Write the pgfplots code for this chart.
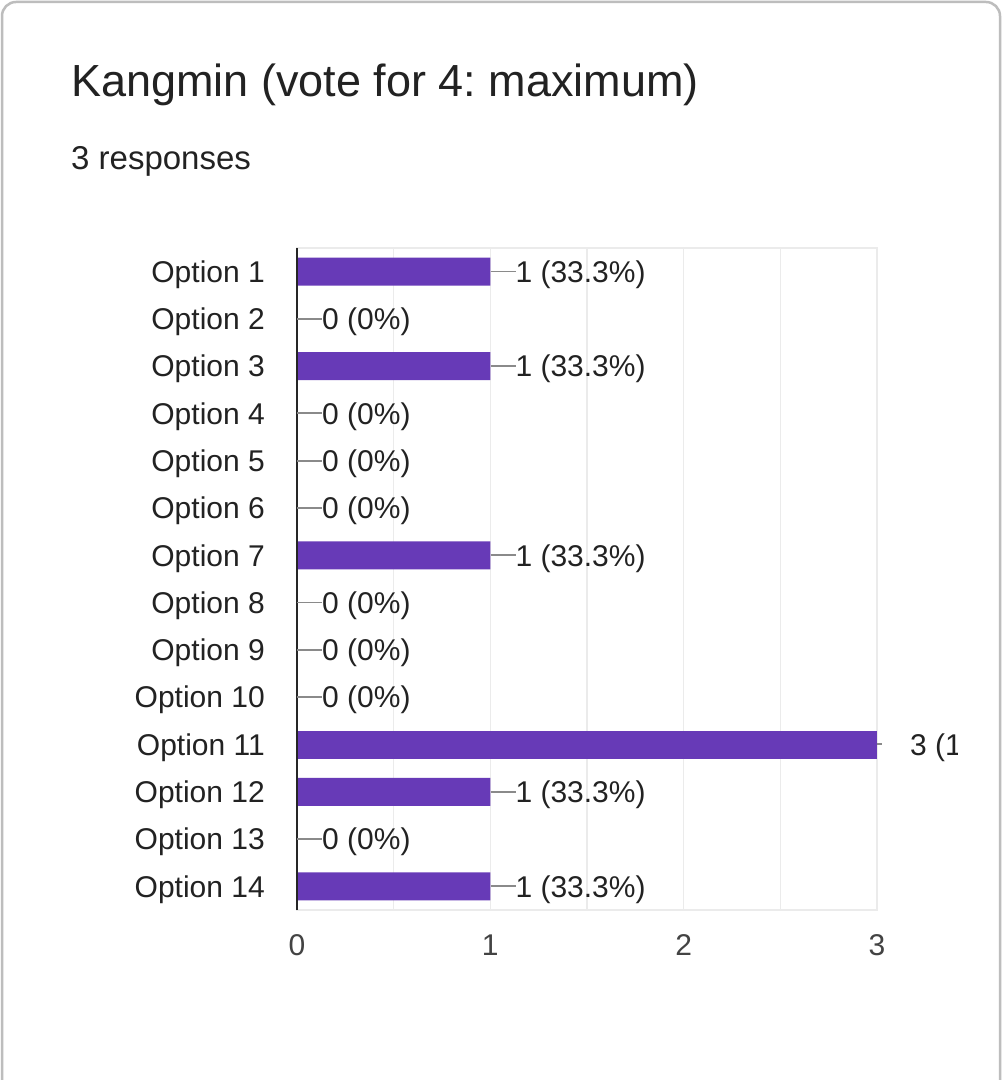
\documentclass[border=0pt]{standalone}
\usepackage{pgfplots}
\pgfplotsset{compat=1.18}
\usepackage{pgfplotstable}
\usepackage{fontspec}
\setmainfont{Liberation Sans}
\frenchspacing
\definecolor{barpurple}{HTML}{673AB7}
\definecolor{gridgray}{HTML}{EBEBEB}
\definecolor{linegray}{HTML}{8A8A8A}
\definecolor{textgray}{HTML}{222222}
\definecolor{cardgray}{HTML}{BDBDBD}
\pgfplotstableread{
x y lab
1 1 {1 (33.3\%)}
0 2 {0 (0\%)}
1 3 {1 (33.3\%)}
0 4 {0 (0\%)}
0 5 {0 (0\%)}
0 6 {0 (0\%)}
1 7 {1 (33.3\%)}
0 8 {0 (0\%)}
0 9 {0 (0\%)}
0 10 {0 (0\%)}
1 12 {1 (33.3\%)}
0 13 {0 (0\%)}
1 14 {1 (33.3\%)}
}\mainbars
\pgfplotstableread{
x y lab
3 11 {3 (100\%)}
}\maxbar
\begin{document}
\begin{tikzpicture}[x=1pt,y=1pt]
\path[use as bounding box] (0,0) rectangle (1004,1080);
\fill[white] (0,0) rectangle (1004,1080);
\draw[cardgray, line width=2.5pt, rounded corners=14pt] (2,-30) -- (2,1078) -- (1000,1078) -- (1000,-30);
\node[anchor=base west, inner sep=0pt, text=textgray, font=\fontsize{45}{50}\selectfont] at (71,983) {Kangmin (vote for 4: maximum)};
\node[anchor=base west, inner sep=0pt, text=textgray, font=\fontsize{33}{38}\selectfont] at (71,910) {3 responses};
\begin{scope}
\clip (0,0) rectangle (957,1080);
\begin{axis}[
  at={(297pt,170pt)}, anchor=south west,
  width=580pt, height=662pt, scale only axis,
  xmin=0, xmax=3, ymin=0.5, ymax=14.5, y dir=reverse,
  clip=false,
  xtick={0,0.5,1,1.5,2,2.5,3}, xticklabels={0,,1,,2,,3},
  ytick={1,2,3,4,5,6,7,8,9,10,11,12,13,14},
  yticklabels={Option 1,Option 2,Option 3,Option 4,Option 5,Option 6,Option 7,Option 8,Option 9,Option 10,Option 11,Option 12,Option 13,Option 14},
  major tick length=0pt,
  xmajorgrids, grid style={gridgray, line width=1.5pt},
  axis line style={gridgray, line width=1.5pt},
  yticklabel style={font=\fontsize{30}{34}\selectfont, text=textgray, anchor=east, inner sep=0pt, text height=21.5pt, text depth=0pt, xshift=-32pt},
  xticklabel style={font=\fontsize{30}{34}\selectfont, text=textgray!85, anchor=north, inner sep=0pt, text height=21.5pt, text depth=0pt, yshift=-24pt},
  /pgf/number format/assume math mode=true,
  xbar, bar width=28pt, bar shift=0pt,
]
\addplot[fill=barpurple, draw=none,
  point meta=explicit symbolic,
  nodes near coords={{\color{linegray}\rule[10pt]{25pt}{1.8pt}}\pgfplotspointmeta},
  nodes near coords style={anchor=west, inner sep=0pt, text=textgray, font=\fontsize{30}{34}\selectfont, text height=21.5pt, text depth=0pt},
] table[x=x, y=y, meta=lab] {\mainbars};
\addplot[fill=barpurple, draw=none,
  point meta=explicit symbolic,
  nodes near coords={{\color{linegray}\rule[10pt]{5pt}{1.8pt}}\hspace{28pt}\pgfplotspointmeta},
  nodes near coords style={anchor=west, inner sep=0pt, text=textgray, font=\fontsize{30}{34}\selectfont, text height=21.5pt, text depth=0pt},
] table[x=x, y=y, meta=lab] {\maxbar};
\draw[black!85, line width=2.5pt] (axis cs:0,0.5) -- (axis cs:0,14.5);
\end{axis}
\end{scope}
\end{tikzpicture}
\end{document}
